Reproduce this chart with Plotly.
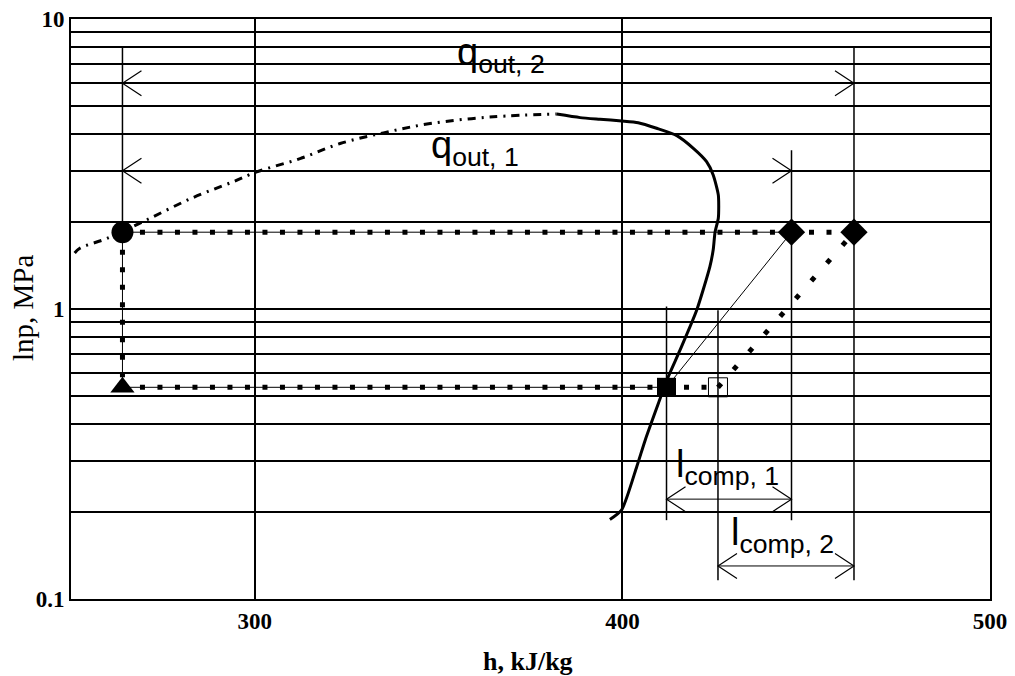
import numpy as np
import plotly.graph_objects as go

# ---------------- data ----------------
# saturated-liquid line (dash-dot), h [kJ/kg], p [MPa]
liq_h = [251.0, 252.4, 259.7, 270.6, 282.8, 294.2, 300.5, 312.3, 323.2, 335.0, 347.7, 364.9, 382.1]
liq_p = [1.56, 1.62, 1.75, 2.03, 2.41, 2.75, 2.97, 3.30, 3.72, 4.05, 4.36, 4.60, 4.70]
# saturated-vapour line (solid)
vap_h = [382.1, 388.5, 393.9, 399.8, 404.3, 409.3, 414.8, 419.3, 422.9, 424.7, 426.1, 426.1,
         425.2, 424.7, 423.8, 420.2, 415.7, 412.5, 409.8, 406.2, 403.9, 399.8, 396.6]
vap_p = [4.70, 4.57, 4.51, 4.45, 4.39, 4.20, 3.96, 3.58, 3.22, 2.90, 2.47, 2.06,
         1.84, 1.60, 1.40, 0.99, 0.723, 0.585, 0.473, 0.353, 0.286, 0.203, 0.188]

# cycle states
p_high = 1.84
p_low = 0.537
h_liq = 264.0      # condenser outlet / evaporator inlet
h_suct = 412.0     # compressor inlet (cycle 1)
h_suct2 = 426.0    # compressor inlet (cycle 2)
h_dis1 = 446.0     # compressor outlet (cycle 1)
h_dis2 = 463.0     # compressor outlet (cycle 2)

# extension lines: h, p_top, p_bottom
ext_h = [264.0, 446.0, 463.0, 412.0, 426.0]
ext_ptop = [8.0, 3.53, 8.0, 1.02, 0.99]
ext_pbot = [1.84, 0.187, 0.116, 0.187, 0.116]

# dimension arrows: label, h_start, h_end, p, label h, label p
arr_label = ["q<sub>out, 2</sub>", "q<sub>out, 1</sub>", "l<sub>comp, 1</sub>", "l<sub>comp, 2</sub>"]
arr_h0 = [264.0, 264.0, 412.0, 426.0]
arr_h1 = [463.0, 446.0, 446.0, 463.0]
arr_p = [6.0, 3.0, 0.221, 0.13]
lab_h = [367.0, 360.0, 428.7, 443.5]
lab_p = [7.5, 3.6, 0.286, 0.166]
lab_bg = [True, False, False, False]

# axes
x_ticks = [300, 400, 500]
y_grid = [0.1, 0.2, 0.3, 0.4, 0.5, 0.6, 0.7, 0.8, 0.9,
          1, 2, 3, 4, 5, 6, 7, 8, 9, 10]
y_text = ["0.1", "", "", "", "", "", "", "", "",
          "1", "", "", "", "", "", "", "", "", "10"]

# ---------------- figure ----------------
OFF = 8                      # page body margin of the html page
PAGE_W, PAGE_H = 1015, 676
W, H = PAGE_W - OFF, PAGE_H - OFF
PL, PR, PT, PB = 71, 990, 19, 599   # plot area in page pixels
ML, MT = PL - OFF, PT - OFF
MR, MB = W - (PR - OFF), H - (PB - OFF)
PW, PH = PR - PL, PB - PT
XR = (250, 500)
YR = (-1, 1)
px_per_h = PW / (XR[1] - XR[0])
px_per_dec = PH / (YR[1] - YR[0])

fig = go.Figure()

# saturation dome
fig.add_trace(go.Scatter(x=liq_h, y=liq_p, mode="lines",
                         line=dict(color="black", width=3, dash="8px,6px,2px,6px", shape="spline")))
fig.add_trace(go.Scatter(x=vap_h, y=vap_p, mode="lines",
                         line=dict(color="black", width=3, shape="spline", smoothing=0.6)))

# extension lines
ex, ey = [], []
for h, a, b in zip(ext_h, ext_ptop, ext_pbot):
    ex += [h, h, None]
    ey += [a, b, None]
fig.add_trace(go.Scatter(x=ex, y=ey, mode="lines", line=dict(color="black", width=1.5)))

# dimension arrows (shaft + open chevrons)
dh = 19 / px_per_h
dd = 12.5 / px_per_dec
sx, sy = [], []
cx, cy = [], []
for h0, h1, p in zip(arr_h0, arr_h1, arr_p):
    sx += [h0, h1, None]
    sy += [p, p, None]
    up = p * 10 ** dd
    dn = p / 10 ** dd
    cx += [h0 + dh, h0, h0 + dh, None, h1 - dh, h1, h1 - dh, None]
    cy += [up, p, dn, None, up, p, dn, None]
fig.add_trace(go.Scatter(x=sx, y=sy, mode="lines", line=dict(color="black", width=1)))
fig.add_trace(go.Scatter(x=cx, y=cy, mode="lines", line=dict(color="black", width=1.2)))

# cycle lines with thin connecting line + square dots
dot = "5px,12.5px"
for xs, ys in [([h_liq, h_dis1], [p_high, p_high]),
               ([h_liq, h_liq], [p_high, p_low]),
               ([h_liq, h_suct], [p_low, p_low])]:
    fig.add_trace(go.Scatter(x=xs, y=ys, mode="lines", line=dict(color="black", width=1)))
    fig.add_trace(go.Scatter(x=xs, y=ys, mode="lines", line=dict(color="black", width=5, dash=dot)))

# dotted-only paths
fig.add_trace(go.Scatter(x=[h_suct, h_suct2], y=[p_low, p_low], mode="lines",
                         line=dict(color="black", width=5, dash=dot)))
fig.add_trace(go.Scatter(x=[h_suct2, h_dis2], y=[p_low, p_high], mode="lines",
                         line=dict(color="black", width=5, dash="5px,18.6px")))
fig.add_trace(go.Scatter(x=[h_dis1, h_dis2], y=[p_high, p_high], mode="lines",
                         line=dict(color="black", width=5, dash=dot)))
# thin compression line
fig.add_trace(go.Scatter(x=[h_suct, h_dis1], y=[p_low, p_high], mode="lines",
                         line=dict(color="black", width=1)))

# markers
def mk(x, y, sym, size, lw=0):
    fig.add_trace(go.Scatter(x=[x], y=[y], mode="markers",
                             marker=dict(symbol=sym, size=size, color="black",
                                         line=dict(color="black", width=lw))))

mk(h_liq, p_high, "circle", 22)
mk(h_liq, p_low, "triangle-up", 21)
mk(h_suct, p_low, "square", 19)
mk(h_dis1, p_high, "diamond", 21)
mk(h_dis2, p_high, "diamond", 21)
fig.add_trace(go.Scatter(x=[h_suct2], y=[p_low], mode="markers",
                         marker=dict(symbol="square-open", size=19, color="black",
                                     line=dict(color="black", width=1))))

annotations = []
shapes = []
for t, hx, py, bg in zip(arr_label, lab_h, lab_p, lab_bg):
    annotations.append(dict(x=hx, y=np.log10(py), xref="x", yref="y", text=t, showarrow=False,
                            xanchor="center", yanchor="middle",
                            font=dict(family="Liberation Sans", size=38, color="black")))
    if bg:
        # white patch that interrupts the grid lines behind the label
        shapes.append(dict(type="rect", layer="between",
                           xref="x", xsizemode="pixel", xanchor=hx, x0=-51, x1=52,
                           yref="paper", ysizemode="pixel",
                           yanchor=(np.log10(py) - YR[0]) / (YR[1] - YR[0]), y0=-17, y1=16,
                           fillcolor="white", line=dict(width=0)))
annotations.append(dict(x=(23 - PL) / PW, y=(PB - 308) / PH, xref="paper", yref="paper",
                        text="lnp, MPa", textangle=-90, showarrow=False,
                        xanchor="center", yanchor="middle",
                        font=dict(family="Liberation Serif", size=29, color="black")))
annotations.append(dict(x=(528 - PL) / PW, y=(PB - 661) / PH, xref="paper", yref="paper",
                        text="h, kJ/kg", showarrow=False,
                        xanchor="center", yanchor="middle",
                        font=dict(family="Liberation Serif", size=26, color="black", weight="bold")))

axis_common = dict(showgrid=True, gridcolor="black", gridwidth=2,
                   showline=True, linecolor="black", linewidth=2, mirror=True,
                   ticks="", zeroline=False, automargin=False, ticklabeloverflow="allow",
                   tickfont=dict(family="Liberation Serif", size=23, color="black", weight="bold"))

fig.update_layout(
    width=W, height=H,
    margin=dict(l=ML, r=MR, t=MT, b=MB, pad=0, autoexpand=False),
    paper_bgcolor="white", plot_bgcolor="white",
    showlegend=False,
    xaxis=dict(range=list(XR), tickvals=x_ticks, **axis_common),
    yaxis=dict(type="log", range=list(YR), tickvals=y_grid, ticktext=y_text, **axis_common),
    annotations=annotations,
    shapes=shapes,
)

fig.write_html("out.html")
